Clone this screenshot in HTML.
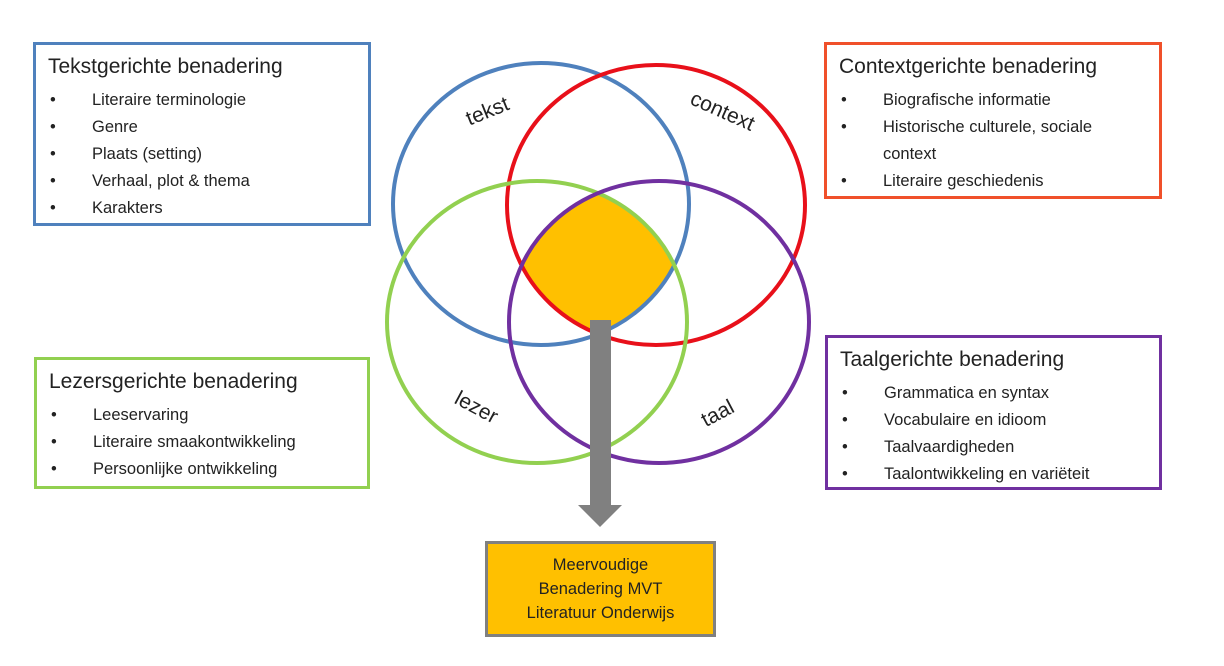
<!DOCTYPE html>
<html><head><meta charset="utf-8"><style>
body{margin:0;width:1224px;height:666px;background:#fff;position:relative;font-family:"Liberation Sans",sans-serif;color:#222;overflow:hidden}
.box{position:absolute;box-sizing:border-box;border:3px solid;background:#fff}
.box h3{margin:0;font-weight:normal;font-size:21px;position:absolute;left:12px;top:10px;white-space:nowrap}
.box ul{list-style:none;margin:0;padding:0;position:absolute;left:12px;top:42px}
.box li{font-size:16.5px;height:27px;line-height:27px;position:relative;padding-left:44px;white-space:nowrap}
.box li:before{content:"•";position:absolute;left:2px}
.box li.nob:before{content:none}
</style></head><body>
<svg width="1224" height="666" style="position:absolute;left:0;top:0">
<defs>
<clipPath id="cb"><ellipse cx="541" cy="204" rx="148" ry="141"/></clipPath>
<clipPath id="cr"><ellipse cx="656" cy="205" rx="149" ry="140"/></clipPath>
<clipPath id="cg"><ellipse cx="537" cy="322" rx="150" ry="141"/></clipPath>
</defs>
<g clip-path="url(#cb)"><g clip-path="url(#cr)"><g clip-path="url(#cg)">
<ellipse cx="659" cy="322" rx="150" ry="141" fill="#FFC000"/></g></g></g>
<g fill="none" stroke-width="4">
<ellipse cx="541" cy="204" rx="148" ry="141" stroke="#4F81BD"/>
<ellipse cx="656" cy="205" rx="149" ry="140" stroke="#E8101A"/>
<ellipse cx="537" cy="322" rx="150" ry="141" stroke="#92D050"/>
<ellipse cx="659" cy="322" rx="150" ry="141" stroke="#7030A0"/>
</g>
<rect x="590" y="320" width="21" height="186" fill="#808080"/>
<polygon points="578,505 622,505 600,527" fill="#808080"/>
<g font-family="Liberation Sans,sans-serif" font-size="21" fill="#222">
<text x="487" y="118" transform="rotate(-22 487 110)" text-anchor="middle">tekst</text>
<text x="723" y="118" transform="rotate(24 723 110)" text-anchor="middle">context</text>
<text x="476" y="414" transform="rotate(28 476 408)" text-anchor="middle">lezer</text>
<text x="718" y="420" transform="rotate(-28 718 414)" text-anchor="middle">taal</text>
</g>
</svg>
<div class="box" style="left:33px;top:42px;width:338px;height:184px;border-color:#4F81BD">
<h3>Tekstgerichte benadering</h3>
<ul><li>Literaire terminologie</li><li>Genre</li><li>Plaats (setting)</li><li>Verhaal, plot &amp; thema</li><li>Karakters</li></ul></div>
<div class="box" style="left:824px;top:42px;width:338px;height:157px;border-color:#F0502A">
<h3>Contextgerichte benadering</h3>
<ul><li>Biografische informatie</li><li>Historische culturele, sociale</li><li class="nob">context</li><li>Literaire geschiedenis</li></ul></div>
<div class="box" style="left:34px;top:357px;width:336px;height:132px;border-color:#92D050">
<h3>Lezersgerichte benadering</h3>
<ul><li>Leeservaring</li><li>Literaire smaakontwikkeling</li><li>Persoonlijke ontwikkeling</li></ul></div>
<div class="box" style="left:825px;top:335px;width:337px;height:155px;border-color:#7030A0">
<h3>Taalgerichte benadering</h3>
<ul><li>Grammatica en syntax</li><li>Vocabulaire en idioom</li><li>Taalvaardigheden</li><li>Taalontwikkeling en variëteit</li></ul></div>
<div style="position:absolute;left:485px;top:541px;width:231px;height:96px;box-sizing:border-box;border:3px solid #808080;background:#FFC000;text-align:center;font-size:16.5px;line-height:24px;padding-top:9px">Meervoudige<br>Benadering MVT<br>Literatuur Onderwijs</div>
</body></html>
